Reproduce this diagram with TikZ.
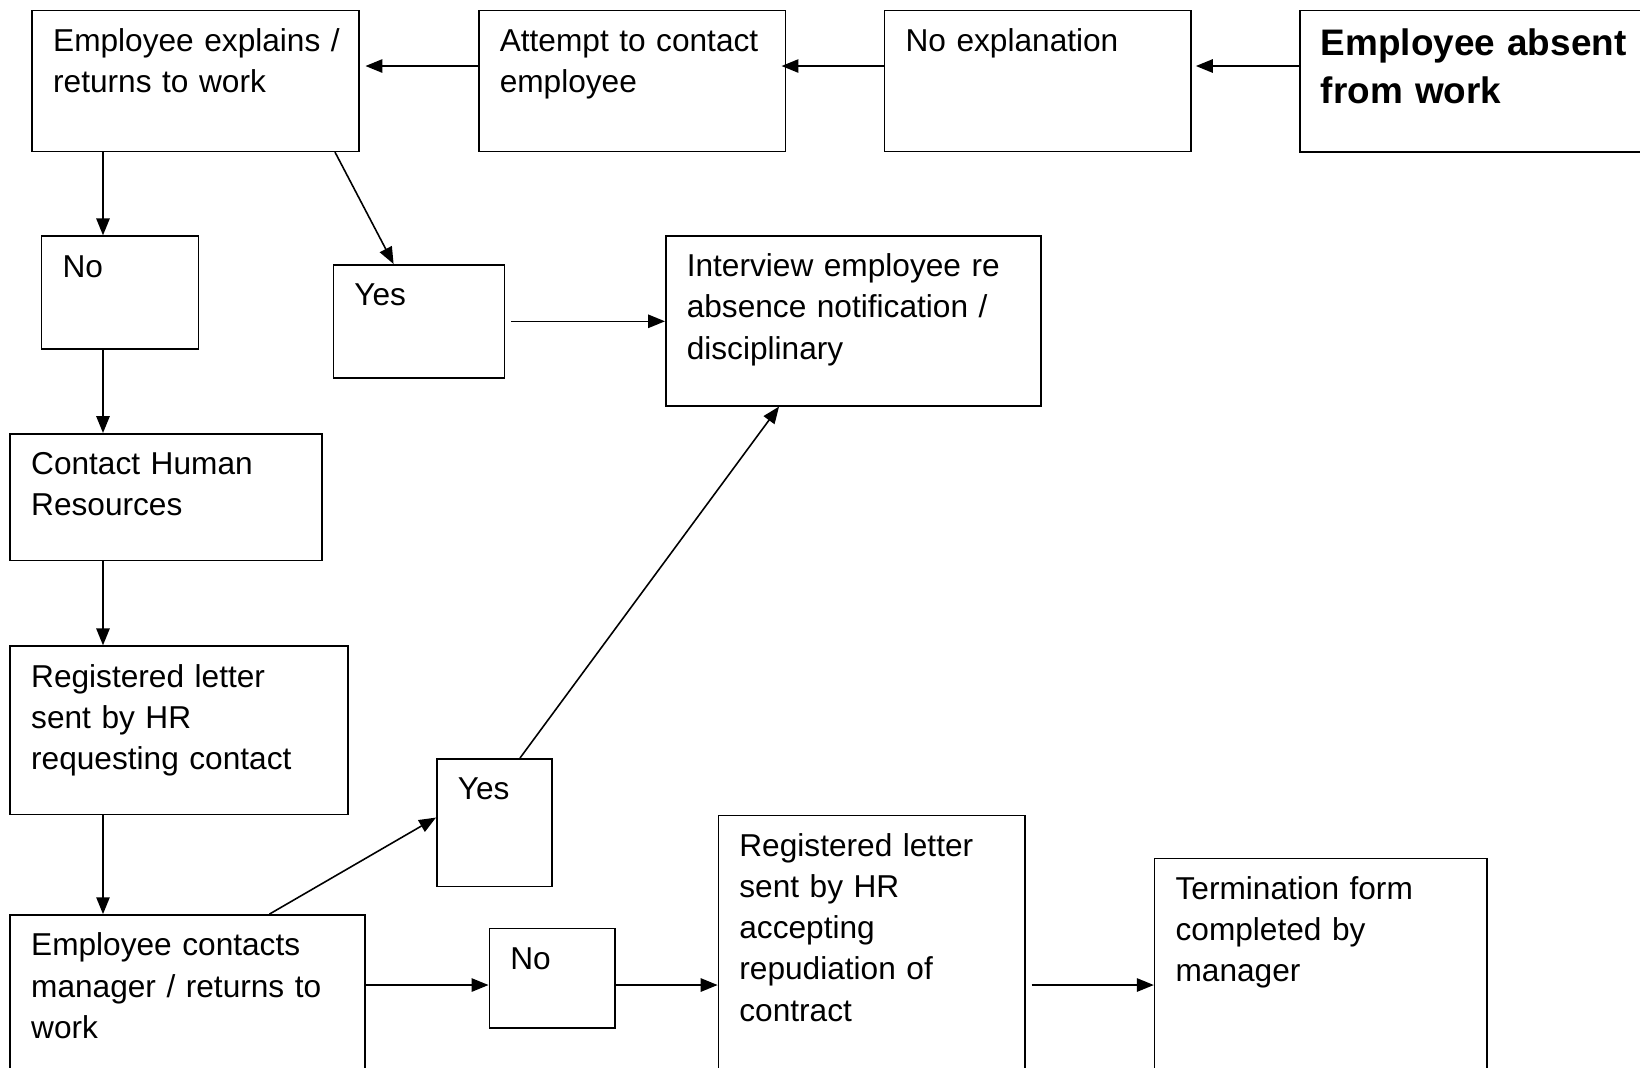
\documentclass[tikz,border=0pt]{standalone}
\usepackage{fontspec}
\setmainfont{Liberation Sans}
\usetikzlibrary{arrows.meta}
\tikzset{
  blk/.style={draw, line width=0.45pt, anchor=north west, align=left,
    inner xsep=0.21cm, inner ysep=0pt, text height=0.41cm,
    font=\fontsize{9pt}{11.7pt}\selectfont},
  arr/.style={-{Triangle[length=4.8pt,width=3.8pt]}, line width=0.45pt}
}
\begin{document}
\begin{tikzpicture}
  \useasboundingbox (0,0) rectangle (16.40,-10.67);
  \clip (0,0) rectangle (16.40,-10.67);
  % rows and spine for the connectors
  \coordinate (toprow) at (0,-0.66);
  \coordinate (botrow) at (0,-9.85);
  \coordinate (spine) at (1.03,0);
  % top row
  \node[blk, text width=2.85cm, text depth=1.00cm] (e1) at (0.314,-0.095) {\mbox{Employee explains /}\\returns to work};
  \node[blk, text width=2.645cm, text depth=1.00cm] (att) at (4.78,-0.095) {Attempt to contact\\employee};
  \node[blk, text width=2.645cm, text depth=1.00cm] (noex) at (8.838,-0.095) {No explanation};
  \node[blk, text width=3.18cm, text height=0.45cm, text depth=0.965cm,
    font=\fontsize{10.5pt}{13.6pt}\selectfont\bfseries] (absent) at (12.99,-0.095) {Employee absent\\from work};
  % answers and interview
  \node[blk, text width=1.15cm, text depth=0.72cm] (no1) at (0.408,-2.353) {No};
  \node[blk, text width=1.29cm, text depth=0.72cm] (yes1) at (3.326,-2.64) {Yes};
  \node[blk, text width=3.33cm, text depth=1.29cm] (intv) at (6.65,-2.35) {Interview employee re\\absence notification /\\disciplinary};
  % left column
  \node[blk, text width=2.697cm, text depth=0.856cm] (hr) at (0.094,-4.33) {Contact Human\\Resources};
  \node[blk, text width=2.958cm, text depth=1.274cm] (reg1) at (0.094,-6.453) {Registered letter\\sent by HR\\requesting contact};
  \node[blk, text width=3.126cm, text depth=2.0cm] (ec) at (0.094,-9.141) {Employee contacts\\manager / returns to\\work};
  % bottom row
  \node[blk, text width=0.733cm, text depth=0.865cm] (yes2) at (4.36,-7.58) {Yes};
  \node[blk, text width=0.835cm, text depth=0.583cm] (no2) at (4.885,-9.277) {No};
  \node[blk, text width=2.644cm, text depth=3.0cm] (reg2) at (7.176,-8.148) {Registered letter\\sent by HR\\accepting\\repudiation of\\contract};
  \node[blk, text width=2.906cm, text depth=3.0cm] (term) at (11.538,-8.576) {Termination form\\completed by\\manager};
  % connectors
  \draw[arr, shorten >=0.04cm] (absent.west |- toprow) -- (noex.east |- toprow);
  \draw[arr, shorten >=-0.045cm] (noex.west |- toprow) -- (att.east |- toprow);
  \draw[arr, shorten >=0.055cm] (att.west |- toprow) -- (e1.east |- toprow);
  \draw[arr] (e1.south -| spine) -- (no1.north -| spine);
  \draw[arr] ([xshift=-0.25cm]e1.south east) -- ([xshift=0.61cm]yes1.north west);
  \draw[arr, shorten <=0.06cm] (yes1.east) -- (yes1.east -| intv.west);
  \draw[arr] (no1.south -| spine) -- (hr.north -| spine);
  \draw[arr] (hr.south -| spine) -- (reg1.north -| spine);
  \draw[arr] (reg1.south -| spine) -- (ec.north -| spine);
  \draw[arr] ([xshift=2.6cm]ec.north west) -- ([yshift=0.05cm]yes2.west);
  \draw[arr] ([xshift=0.84cm]yes2.north west) -- ([xshift=1.14cm]intv.south west);
  \draw[arr] (ec.east |- botrow) -- (no2.west |- botrow);
  \draw[arr] (no2.east |- botrow) -- (reg2.west |- botrow);
  \draw[arr, shorten <=0.06cm] (reg2.east |- botrow) -- (term.west |- botrow);
\end{tikzpicture}
\end{document}
